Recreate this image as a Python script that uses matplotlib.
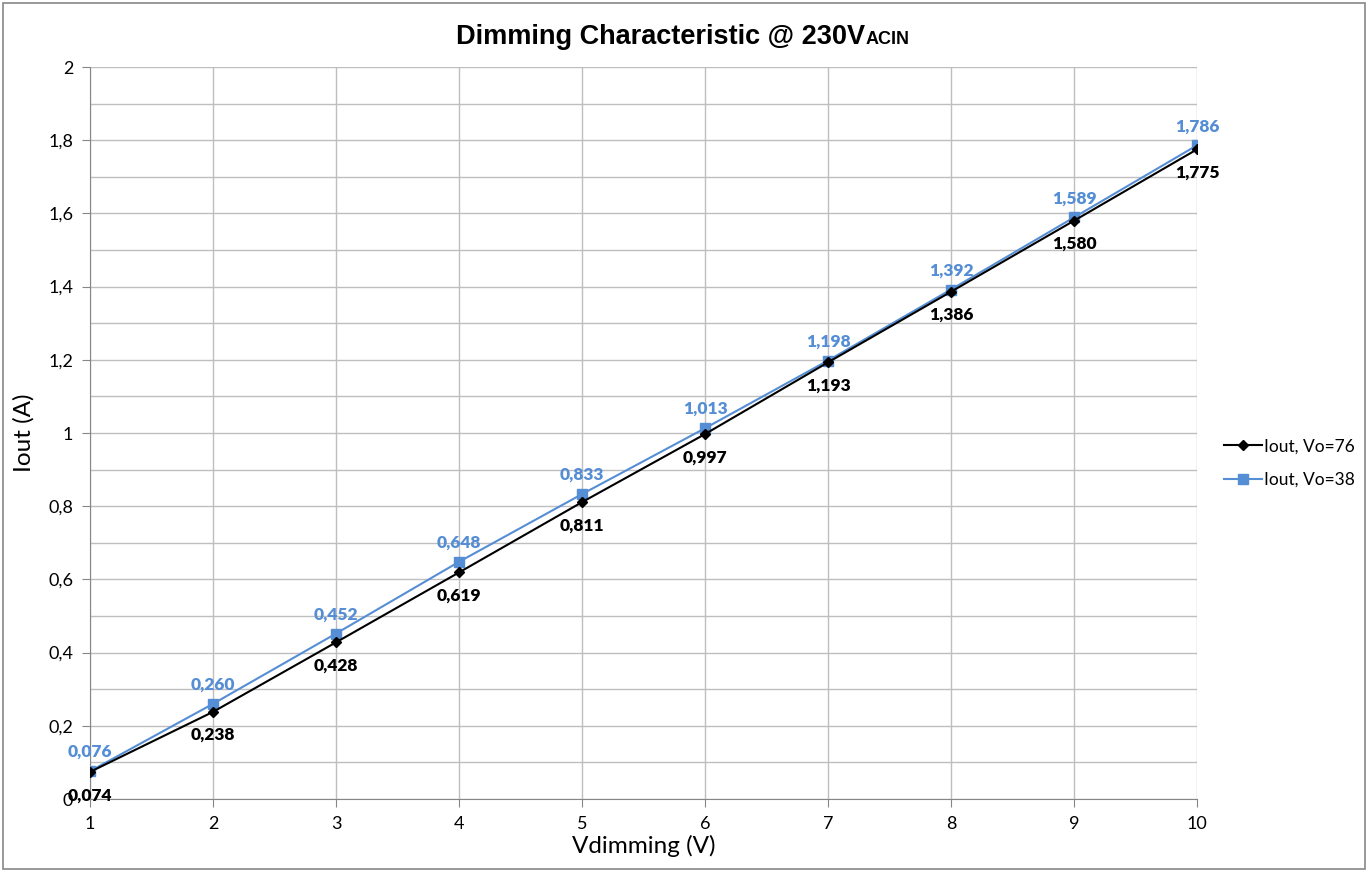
import matplotlib.pyplot as plt
from matplotlib.patches import Rectangle
from matplotlib.ticker import MultipleLocator, FuncFormatter

# données
vdim = [1, 2, 3, 4, 5, 6, 7, 8, 9, 10]
iout_76 = [0.074, 0.238, 0.428, 0.619, 0.811, 0.997, 1.193, 1.386, 1.580, 1.775]
iout_38 = [0.076, 0.260, 0.452, 0.648, 0.833, 1.013, 1.198, 1.392, 1.589, 1.786]
noms = ['Iout, Vo=76', 'Iout, Vo=38']

blue = '#558ED5'
grid_c = '#BEBEBE'

fig = plt.figure(figsize=(13.68, 8.72), dpi=100)
ax = fig.add_axes([90/1368, 1 - 799/872, (1197-90)/1368, (799-67)/872])

ax.plot(vdim, iout_76, color='black', lw=1.5, marker='D', ms=5, label=noms[0], zorder=3)
ax.plot(vdim, iout_38, color=blue, lw=1.5, marker='s', ms=7, label=noms[1], zorder=2)

def virgule(v):
    return ('%.3f' % v).replace('.', ',')

for x, y in zip(vdim, iout_76):
    ax.annotate(virgule(y), (x, y), xytext=(0, -11), textcoords='offset points',
                ha='center', va='top', fontsize=12.5, fontweight='heavy',
                family='Lato', color='black')
for x, y in zip(vdim, iout_38):
    ax.annotate(virgule(y), (x, y), xytext=(0, 8), textcoords='offset points',
                ha='center', va='bottom', fontsize=12.5, fontweight='heavy',
                family='Lato', color=blue)

ax.set_xlim(1, 10)
ax.set_ylim(0, 2)
ax.xaxis.set_major_locator(MultipleLocator(1))
ax.yaxis.set_major_locator(MultipleLocator(0.2))
ax.yaxis.set_minor_locator(MultipleLocator(0.1))
ax.yaxis.set_major_formatter(FuncFormatter(lambda v, p: ('%g' % round(v, 1)).replace('.', ',')))
ax.grid(True, which='both', color=grid_c, lw=1)
ax.tick_params(axis='y', which='minor', length=0)
ax.tick_params(which='major', length=6, color='#868686', labelsize=13, pad=6)
for lab in ax.get_xticklabels() + ax.get_yticklabels():
    lab.set_family('Lato')
for s in ['top', 'right']:
    ax.spines[s].set_visible(False)
for s in ['left', 'bottom']:
    ax.spines[s].set_color('#868686')
ax.set_axisbelow(True)

ax.set_xlabel('Vdimming (V)', family='Lato', fontsize=17.5, labelpad=2)
ax.set_ylabel('Iout (A)', family='Lato', fontsize=17.5, labelpad=10)

fig.text(865/1368, 1 - 44/872, 'Dimming Characteristic @ 230V', ha='right', va='baseline',
         family='Liberation Sans', fontweight='bold', fontsize=19.5)
fig.text(866/1368, 1 - 44/872, 'ACIN', ha='left', va='baseline',
         family='Liberation Sans', fontweight='bold', fontsize=13)

fig.legend(loc='center left', bbox_to_anchor=(1208/1368, 1 - 463/872), frameon=False,
           prop={'family': 'Lato', 'size': 12.5}, handlelength=2.2, handletextpad=0.1,
           labelspacing=1.0)

fig.patches.append(Rectangle((3/1368, 3/872), 1362/1368, 866/872, transform=fig.transFigure,
                             fill=False, edgecolor='#868686', lw=1.2))

fig.savefig('out.png', dpi=100)
